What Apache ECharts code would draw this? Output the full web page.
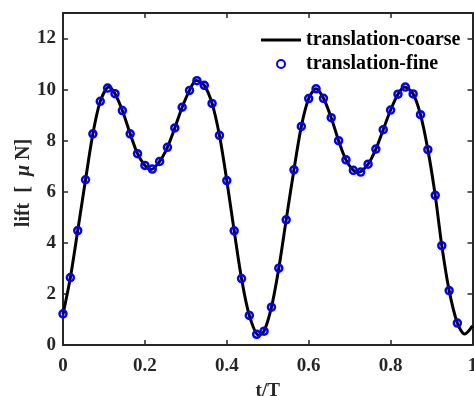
<!DOCTYPE html>
<html>
<head>
<meta charset="utf-8">
<script src="https://cdn.jsdelivr.net/npm/echarts@6/dist/echarts.min.js"></script>
<style>
  html, body { margin: 0; padding: 0; background: #fff; }
  #liftChart { width: 474px; height: 396px; }
</style>
</head>
<body>
<div id="liftChart"></div>
<script>
// fine run
var fineT = [0.000, 0.018, 0.036, 0.055, 0.073, 0.091, 0.109, 0.127, 0.145, 0.164,
  0.182, 0.200, 0.218, 0.236, 0.255, 0.273, 0.291, 0.309, 0.327, 0.345,
  0.364, 0.382, 0.400, 0.418, 0.436, 0.455, 0.473, 0.491, 0.509, 0.527,
  0.545, 0.564, 0.582, 0.600, 0.618, 0.636, 0.655, 0.673, 0.691, 0.709,
  0.727, 0.745, 0.764, 0.782, 0.800, 0.818, 0.836, 0.855, 0.873, 0.891,
  0.909, 0.925, 0.943, 0.963];
var fineLift = [1.22, 2.64, 4.48, 6.47, 8.27, 9.54, 10.06, 9.84, 9.18, 8.27,
  7.49, 7.03, 6.89, 7.19, 7.74, 8.50, 9.31, 9.97, 10.35, 10.17,
  9.46, 8.21, 6.44, 4.47, 2.60, 1.16, 0.42, 0.54, 1.48, 3.01,
  4.90, 6.86, 8.56, 9.65, 10.03, 9.66, 8.90, 8.00, 7.25, 6.84,
  6.77, 7.08, 7.67, 8.43, 9.20, 9.82, 10.10, 9.83, 9.02, 7.65,
  5.86, 3.89, 2.13, 0.86];

// coarse run
var coarseT = [0.000, 0.018, 0.036, 0.055, 0.073, 0.091, 0.112, 0.127, 0.145, 0.164,
  0.182, 0.200, 0.215, 0.236, 0.255, 0.273, 0.291, 0.309, 0.325, 0.345,
  0.364, 0.382, 0.400, 0.418, 0.436, 0.455, 0.478, 0.491, 0.509, 0.527,
  0.545, 0.564, 0.582, 0.600, 0.618, 0.636, 0.655, 0.673, 0.691, 0.709,
  0.722, 0.745, 0.764, 0.782, 0.800, 0.818, 0.834, 0.855, 0.873, 0.891,
  0.909, 0.925, 0.943, 0.963, 0.981, 1.000];
var coarseLift = [1.20, 2.64, 4.48, 6.47, 8.27, 9.54, 10.10, 9.84, 9.18, 8.27,
  7.49, 7.03, 6.87, 7.19, 7.74, 8.50, 9.31, 9.97, 10.36, 10.17,
  9.46, 8.21, 6.44, 4.47, 2.60, 1.16, 0.38, 0.54, 1.48, 3.01,
  4.90, 6.86, 8.56, 9.65, 10.03, 9.66, 8.90, 8.00, 7.25, 6.84,
  6.76, 7.08, 7.67, 8.43, 9.20, 9.82, 10.10, 9.83, 9.02, 7.65,
  5.86, 3.89, 2.13, 0.86, 0.43, 0.75];

var xTicks = [0, 0.2, 0.4, 0.6, 0.8, 1];
var yTicks = [0, 2, 4, 6, 8, 10, 12];

function pairs(xs, ys) {
  var out = [];
  for (var i = 0; i < xs.length; i++) out.push([xs[i], ys[i]]);
  return out;
}

var font = "'Liberation Serif', 'Times New Roman', serif";
var axisColor = "#262626";
var legendText = { fontFamily: font, fontWeight: "bold", fontSize: 20, color: "#000" };

var chart = echarts.init(document.getElementById("liftChart"));
var option = {
  animation: false,
  grid: { left: 63, right: 1.5, top: 13, bottom: 51, outerBoundsMode: "none" },
  legend: [
    {
      data: [{ name: "translation-coarse", icon: "rect" }],
      left: 261, top: 30, padding: 0,
      itemWidth: 40, itemHeight: 3,
      textStyle: legendText
    },
    {
      data: ["translation-fine"],
      left: 276, top: 54, padding: 0,
      itemWidth: 40, itemHeight: 8,
      textStyle: legendText
    }
  ],
  xAxis: [
    {
      type: "value", min: 0, max: 1, interval: 0.2,
      name: "t/T", nameLocation: "middle", nameGap: 37, nameMoveOverlap: false,
      nameTextStyle: { fontFamily: font, fontWeight: "bold", fontSize: 19, color: axisColor },
      axisLine: { onZero: false, lineStyle: { color: axisColor, width: 2 } },
      axisTick: { inside: true, length: 5, lineStyle: { color: axisColor, width: 1.5 } },
      axisLabel: {
        margin: 12, fontFamily: font, fontWeight: "bold", fontSize: 19, color: axisColor,
        formatter: function (v) { return xTicks.indexOf(v) >= 0 ? String(v) : ""; }
      },
      splitLine: { show: false }
    },
    {
      type: "value", position: "top", min: 0, max: 1, interval: 0.2,
      axisLine: { onZero: false, lineStyle: { color: axisColor, width: 2 } },
      axisTick: { inside: true, length: 5, lineStyle: { color: axisColor, width: 1.5 } },
      axisLabel: { show: false },
      splitLine: { show: false }
    }
  ],
  yAxis: [
    {
      type: "value", min: 0, max: 13, interval: 2,
      name: "lift  [  {i|\u03bc} N]", nameLocation: "middle", nameGap: 29, nameMoveOverlap: false,
      nameTextStyle: {
        fontFamily: font, fontWeight: "bold", fontSize: 20, color: axisColor, padding: [0, 8, 0, 0],
        rich: { i: { fontFamily: font, fontWeight: "bold", fontStyle: "italic", fontSize: 20, color: axisColor } }
      },
      axisLine: { onZero: false, lineStyle: { color: axisColor, width: 2 } },
      axisTick: { inside: true, length: 5, lineStyle: { color: axisColor, width: 1.5 } },
      axisLabel: {
        margin: 7, fontFamily: font, fontWeight: "bold", fontSize: 19, color: axisColor,
        formatter: function (v) { return yTicks.indexOf(v) >= 0 ? String(v) : ""; }
      },
      splitLine: { show: false }
    },
    {
      type: "value", position: "right", min: 0, max: 13, interval: 2,
      axisLine: { onZero: false, lineStyle: { color: axisColor, width: 2 } },
      axisTick: { inside: true, length: 5, lineStyle: { color: axisColor, width: 1.5 } },
      axisLabel: { show: false },
      splitLine: { show: false }
    }
  ],
  series: [
    {
      name: "translation-coarse",
      type: "line",
      smooth: 0.3,
      symbol: "none",
      data: pairs(coarseT, coarseLift),
      lineStyle: { color: "#000", width: 3 },
      itemStyle: { color: "#000" },
      z: 2
    },
    {
      name: "translation-fine",
      type: "scatter",
      symbol: "circle",
      symbolSize: 7,
      data: pairs(fineT, fineLift),
      itemStyle: { color: "rgba(255,255,255,0)", borderColor: "#0000ff", borderWidth: 2.5, opacity: 1 },
      z: 3
    }
  ]
};
chart.setOption(option);
</script>
</body>
</html>
